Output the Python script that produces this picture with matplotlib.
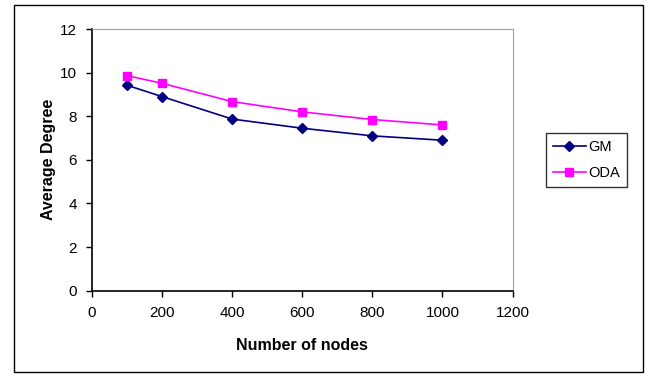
import matplotlib.pyplot as plt
from matplotlib.patches import Rectangle

plt.rcParams["font.family"] = ["Liberation Sans", "DejaVu Sans"]

# data
nodes = [100, 200, 400, 600, 800, 1000]
gm = [9.42, 8.90, 7.87, 7.45, 7.10, 6.90]
oda = [9.86, 9.51, 8.67, 8.20, 7.85, 7.60]

W, H = 649, 377
fig = plt.figure(figsize=(W / 100, H / 100), dpi=100)

# outer chart border
fig.patches.append(Rectangle((14 / W, 1 - 372 / H), (643 - 14) / W, (372 - 5) / H,
                             transform=fig.transFigure, fill=False,
                             edgecolor="black", linewidth=1.0))

ax = fig.add_axes([92 / W, 1 - 290.7 / H, (512.5 - 92) / W, (290.7 - 29) / H])

ax.plot(nodes, gm, color="#000080", marker="D", markersize=5, linewidth=1.2, label="GM")
ax.plot(nodes, oda, color="#FF00FF", marker="s", markersize=6, linewidth=1.2, label="ODA")

ax.set_xlim(0, 1200)
ax.set_ylim(0, 12)
ax.set_xticks(range(0, 1201, 200))
ax.set_yticks(range(0, 13, 2))
ax.tick_params(direction="out", length=4, width=1, labelsize=11, pad=7)

for side in ["top", "right"]:
    ax.spines[side].set_color("#a0a0a0")
for side in ["left", "bottom"]:
    ax.spines[side].set_color("black")
    ax.spines[side].set_linewidth(1.2)

ax.set_xlabel("Number of nodes", fontsize=11.5, fontweight="bold", labelpad=13)
ax.set_ylabel("Average Degree", fontsize=11.5, fontweight="bold", labelpad=3)

leg = ax.legend(loc="center left", bbox_to_anchor=(1.08, 0.5), fontsize=10.5,
                frameon=True, fancybox=False, borderpad=0.5, handlelength=2.2,
                labelspacing=0.8, handletextpad=0.2, borderaxespad=0)
leg.get_frame().set_edgecolor("black")
leg.get_frame().set_linewidth(1.0)

fig.savefig("out.png", dpi=100)
